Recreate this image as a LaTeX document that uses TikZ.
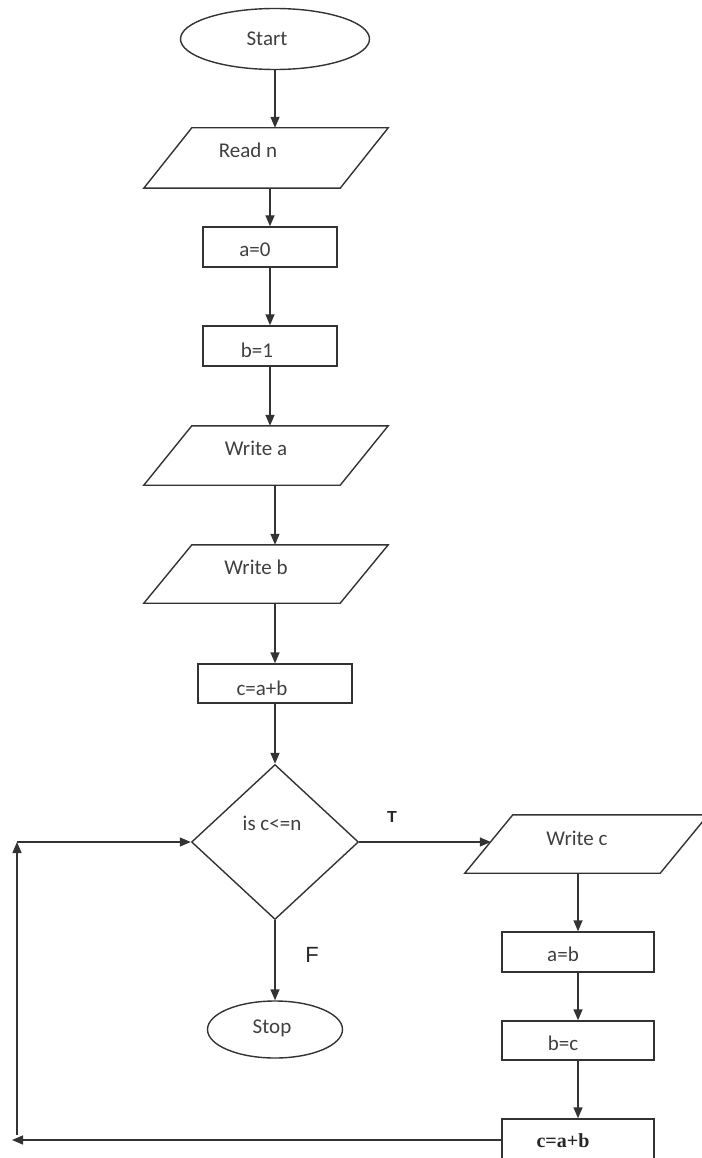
\documentclass[tikz,border=0pt]{standalone}
\usepackage{fontspec}
\setmainfont{Carlito}
\newfontfamily\tagfont{Liberation Sans}
\newfontfamily\boldserif{Liberation Serif}
\usetikzlibrary{shapes.geometric,arrows.meta,calc}

\begin{document}
\begin{tikzpicture}[x=1pt,y=-1pt,
  line/.style={draw=black!80, line width=1.4pt},
  arr/.style={line, -{Triangle[length=11pt,width=9pt]}},
  txt/.style={font=\fontsize{21}{25}\selectfont, text=black!75, inner sep=0pt},
  term/.style={ellipse, line, inner sep=0pt},
  proc/.style={rectangle, line, minimum width=152pt, minimum height=40pt, inner sep=0pt},
  iobox/.style={rectangle, inner sep=0pt, minimum width=244pt, minimum height=59pt},
  iopath/.style={line, line join=miter},
  decision/.style={diamond, line, minimum width=167pt, minimum height=155pt, inner sep=0pt},
  tag/.style={font=\tagfont\bfseries\fontsize{16}{18}\selectfont, text=black!85, inner sep=0pt}
]
\useasboundingbox (0,0) rectangle (701,1158);

% main column
\node[term, minimum width=189pt, minimum height=61pt,
      label={[txt, shift={(-8,0)}]center:Start}] (start) at (275,39) {};
\node[iobox, minimum height=60pt,
      label={[txt, shift={(-18,-8)}]center:Read n}] (readn) at (266,158) {};
\node[proc, minimum width=134pt,
      label={[txt, shift={(-15,3)}]center:a=0}] (a0) at (270,247) {};
\node[proc, minimum width=134pt,
      label={[txt, shift={(-13,4)}]center:b=1}] (b1) at (270,346) {};
\node[iobox,
      label={[txt, shift={(-10,-7.5)}]center:Write a}] (writea) at (266,455.5) {};
\node[iobox, minimum height=58pt,
      label={[txt, shift={(-10,-7)}]center:Write b}] (writeb) at (266,574) {};
\node[proc, minimum width=154pt, minimum height=39pt,
      label={[txt, shift={(-13,4.5)}]center:c=a+b}] (cab) at (275,683.5) {};
\node[decision,
      label={[txt, shift={(-3,-19)}]center:is c<=n}] (dec) at (275,842) {};
\node[term, minimum width=135pt, minimum height=57pt,
      label={[txt, shift={(-3,-1)}]center:Stop}] (stop) at (275,1029.5) {};

% loop body
\node[iobox, minimum width=243pt, minimum height=58pt,
      label={[txt, shift={(-9.5,-6)}]center:Write c}] (writec) at (586.5,844) {};
\node[proc,
      label={[txt, shift={(-15,2)}]center:a=b}] (ab) at (578,952) {};
\node[proc, minimum height=39pt,
      label={[txt, shift={(-15,2.5)}]center:b=c}] (bc) at (578,1040.5) {};
\node[proc, minimum height=42pt,
      label={[inner sep=0pt, text=black!85, font=\boldserif\bfseries\fontsize{20}{23}\selectfont, shift={(-15,1)}]center:c=a+b}] (cab2) at (578,1140) {};

% parallelogram outlines of the input/output nodes
\foreach \n in {readn,writea,writeb,writec}{
  \draw[iopath] (\n.south west) -- ($(\n.north west)+(48,0)$) -- (\n.north east)
    -- ($(\n.south east)+(-48,0)$) -- cycle;
}

% branch labels
\node[tag] (tlab) at (392,817) {T};
\node[tag, font=\tagfont\fontsize{22}{24}\selectfont] (flab) at (312,955) {F};

% connectors
\draw[arr] (start.south) -- (start.south |- readn.north);
\draw[arr] (readn.south -| a0.north) -- (a0.north);
\draw[arr] (a0.south) -- (b1.north);
\draw[arr] (b1.south) -- (b1.south |- writea.north);
\draw[arr] (writea.south -| cab.north) -- (writeb.north -| cab.north);
\draw[arr] (writeb.south -| cab.north) -- (cab.north);
\draw[arr] (cab.south) -- (dec.north);
\draw[arr] (dec.south) -- (stop.north);

\coordinate (cin) at ($(writec.west)+(26,-2)$);
\draw[arr] (dec.east) -- (dec.east -| cin);
\draw[arr] (writec.south -| ab.north) -- (ab.north);
\draw[arr] (ab.south) -- (bc.north);
\draw[arr] (bc.south) -- (cab2.north);

% return path back to the decision
\coordinate (ret) at (12,1140);
\coordinate (up) at (17,1135);
\draw[arr] (cab2.west) -- (ret);
\draw[arr] (up) -- (up |- dec.west);
\draw[arr] (up |- dec.west) -- (dec.west);
\end{tikzpicture}
\end{document}
